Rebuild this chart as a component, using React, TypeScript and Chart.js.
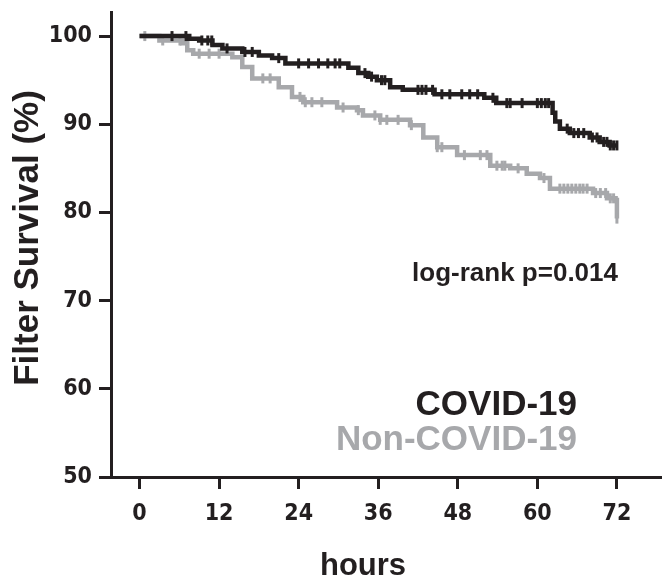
import React, { useEffect, useRef } from 'react';
import { Chart, registerables } from 'chart.js';

Chart.register(...registerables);

// Kaplan–Meier steps: time (hours) at which survival becomes the listed value
const covidTimes = [0, 7.5, 9, 11, 12.5, 15.5, 18, 20, 22, 31.5, 33, 34.5, 35.8, 37.8, 39.7, 44.5, 52, 53.8, 62.3, 62.7, 63.4, 64.9, 67.9, 69.4, 70.9, 72];
const covidSurvival = [100, 99.7, 99.5, 99.0, 98.6, 98.2, 97.8, 97.5, 96.9, 96.4, 95.8, 95.4, 95.0, 94.2, 93.9, 93.4, 93.0, 92.4, 91.3, 90.3, 89.5, 89.0, 88.5, 88.0, 87.6, 87.6];

const nonCovidTimes = [0, 3, 6.4, 7.2, 8.1, 14, 15.5, 17, 21, 23, 24.7, 29.8, 32.8, 33.7, 36.3, 40.8, 42.8, 44.9, 47.9, 52.9, 55.9, 58.4, 60.4, 61.9, 68.4, 70.5, 71.8, 72];
const nonCovidSurvival = [100, 99.5, 99.2, 98.4, 98.0, 97.6, 96.5, 95.2, 94.2, 93.1, 92.5, 91.9, 91.6, 91.0, 90.5, 89.9, 88.5, 87.4, 86.5, 85.3, 85.0, 84.4, 83.9, 82.7, 82.2, 81.6, 81.4, 79.3];

// censoring marks (hours)
const covidCensored = [4.9, 7, 9.4, 10.3, 10.9, 13.2, 15.9, 17, 21, 24, 25.5, 27, 28.4, 29.5, 30.2, 34, 35, 36.5, 37, 42, 42.6, 43.2, 44.2, 45.6, 46.8, 48.6, 49.8, 51, 53.3, 55.4, 55.9, 57.7, 60, 60.6, 61.2, 61.7, 64.5, 65.5, 66.2, 67, 68.3, 69, 70, 70.5, 71, 71.5, 72];
const nonCovidCensored = [0.8, 3.5, 6.1, 9, 10.5, 12, 18.6, 19.7, 24.2, 25, 26, 27.5, 30.7, 33, 35.5, 36.3, 37.3, 39, 41, 44.9, 45.6, 49, 51.4, 52.4, 53.9, 54.7, 55.1, 57.1, 61, 63.4, 64, 64.6, 65.2, 65.8, 66.4, 66.9, 67.5, 68.8, 69.5, 70.3, 71, 71.5, 72];

const xTicks = [0, 12, 24, 36, 48, 60, 72];
const yTicks = [50, 60, 70, 80, 90, 100];
const seriesNames = ['COVID-19', 'Non-COVID-19'];
const pValueLabel = 'log-rank p=0.014';
const xTitle = 'hours';
const yTitle = 'Filter Survival (%)';

const INK = '#231f20';
const GREY = '#a7a8ab';
const SANS = '"Liberation Sans", Arial, Helvetica, sans-serif';
const TICK_FONT = '"DejaVu Sans Condensed", "DejaVu Sans", Verdana, sans-serif';

function stepValue(times: number[], surv: number[], t: number): number {
  let v = surv[0];
  for (let i = 0; i < times.length; i++) {
    if (times[i] <= t) v = surv[i];
  }
  return v;
}

const textPlugin = {
  id: 'kmText',
  afterDraw(chart: any) {
    const ctx = chart.ctx as CanvasRenderingContext2D;
    ctx.save();
    ctx.textBaseline = 'alphabetic';
    ctx.textAlign = 'right';
    ctx.fillStyle = INK;
    ctx.font = `bold 26px ${SANS}`;
    ctx.fillText(pValueLabel, 618, 281);
    ctx.font = `bold 35px ${SANS}`;
    ctx.fillStyle = INK;
    ctx.fillText(seriesNames[0], 577, 415);
    ctx.fillStyle = GREY;
    ctx.fillText(seriesNames[1], 577, 450);
    ctx.fillStyle = INK;
    ctx.textAlign = 'center';
    ctx.font = `bold 31px ${SANS}`;
    ctx.fillText(xTitle, 363, 575);
    ctx.translate(28, 238);
    ctx.rotate(-Math.PI / 2);
    ctx.textBaseline = 'middle';
    ctx.font = `bold 35px ${SANS}`;
    ctx.fillText(yTitle, 0, 0);
    ctx.restore();
  },
};

export default function App() {
  const ref = useRef<HTMLCanvasElement | null>(null);

  useEffect(() => {
    if (!ref.current) return;
    const line = (times: number[], surv: number[]) => times.map((t, i) => ({ x: t, y: surv[i] }));
    const marks = (cens: number[], times: number[], surv: number[]) =>
      cens.map((t) => ({ x: t, y: stepValue(times, surv, t) }));

    const chart = new Chart(ref.current, {
      type: 'line',
      data: {
        datasets: [
          {
            label: seriesNames[0] + ' censored',
            data: marks(covidCensored, covidTimes, covidSurvival),
            showLine: false,
            pointStyle: 'line',
            rotation: 90,
            pointRadius: 5,
            pointBorderWidth: 3,
            borderColor: INK,
            backgroundColor: INK,
            order: 0,
          } as any,
          {
            label: seriesNames[0],
            data: line(covidTimes, covidSurvival),
            stepped: true,
            borderColor: INK,
            borderWidth: 4.5,
            pointRadius: 0,
            fill: false,
            order: 1,
          },
          {
            label: seriesNames[1] + ' censored',
            data: marks(nonCovidCensored, nonCovidTimes, nonCovidSurvival),
            showLine: false,
            pointStyle: 'line',
            rotation: 90,
            pointRadius: 5,
            pointBorderWidth: 3,
            borderColor: GREY,
            backgroundColor: GREY,
            order: 2,
          } as any,
          {
            label: seriesNames[1],
            data: line(nonCovidTimes, nonCovidSurvival),
            stepped: true,
            borderColor: GREY,
            borderWidth: 4.5,
            pointRadius: 0,
            fill: false,
            order: 3,
          },
        ],
      },
      options: {
        animation: false,
        responsive: false,
        devicePixelRatio: 1,
        layout: { autoPadding: false, padding: { left: 0, right: 0, top: 12, bottom: 0 } },
        plugins: { legend: { display: false }, tooltip: { enabled: false } },
        scales: {
          x: {
            type: 'linear',
            min: -4.3,
            max: 78.8,
            afterBuildTicks: (s: any) => {
              s.ticks = xTicks.map((v) => ({ value: v }));
            },
            afterFit: (s: any) => {
              s.height = 102;
              s.paddingLeft = 0;
              s.paddingRight = 0;
              s.paddingTop = 0;
              s.paddingBottom = 0;
            },
            grid: { drawOnChartArea: false, drawTicks: true, tickLength: 12, tickWidth: 3, tickColor: INK },
            border: { display: true, color: INK, width: 3 },
            ticks: {
              color: INK,
              font: { family: TICK_FONT, weight: 'bold', size: 23 },
              padding: 11,
              maxRotation: 0,
              autoSkip: false,
            },
          },
          y: {
            type: 'linear',
            min: 50,
            max: 102.73,
            afterBuildTicks: (s: any) => {
              s.ticks = yTicks.map((v) => ({ value: v }));
            },
            afterFit: (s: any) => {
              s.width = 111;
              s.paddingLeft = 0;
              s.paddingRight = 0;
              s.paddingTop = 0;
              s.paddingBottom = 0;
            },
            grid: { drawOnChartArea: false, drawTicks: true, tickLength: 12, tickWidth: 3, tickColor: INK },
            border: { display: true, color: INK, width: 3 },
            ticks: {
              color: INK,
              font: { family: TICK_FONT, weight: 'bold', size: 23 },
              padding: 7,
              autoSkip: false,
            },
          },
        },
      } as any,
      plugins: [textPlugin],
    });
    return () => chart.destroy();
  }, []);

  return (
    <div style={{ position: 'absolute', left: 0, top: 0, width: 662, height: 579, background: '#fff' }}>
      <canvas ref={ref} width={662} height={579} style={{ display: 'block' }} />
    </div>
  );
}
